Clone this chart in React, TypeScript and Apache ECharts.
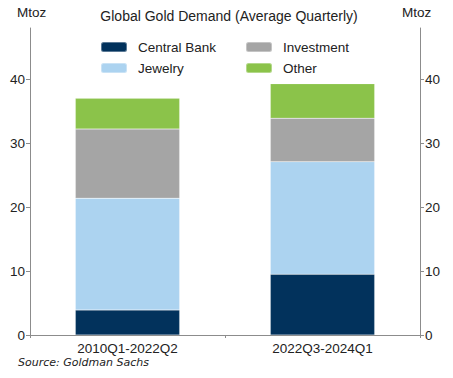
import React, { useEffect, useRef } from "react";
import * as echarts from "echarts";

const categories = ["2010Q1-2022Q2", "2022Q3-2024Q1"];
const centralBank = [3.9, 9.5];
const jewelry = [17.5, 17.6];
const investment = [10.8, 6.8];
const other = [4.8, 5.4];
const yTicks = [0, 10, 20, 30, 40];

const FONT = "Liberation Sans, Arial, sans-serif";
const FS = 13.5;

export default function App() {
  const ref = useRef<HTMLDivElement>(null);
  useEffect(() => {
    if (!ref.current) return;
    const chart = echarts.init(ref.current, undefined, { renderer: "svg" });
    const yAxisBase = (pos: "left" | "right") => ({
      type: "value",
      position: pos,
      min: 0,
      max: 48,
      interval: 10,
      splitLine: { show: false },
      axisLine: { show: true, lineStyle: { color: "#8c8c8c", width: 1 } },
      axisTick: { show: true, length: 4, lineStyle: { color: "#8c8c8c" }, customValues: yTicks },
      axisLabel: { color: "#222", fontSize: FS, fontFamily: FONT, margin: 5, customValues: yTicks },
    });
    const mk = (name: string, data: number[], color: string) => ({
      name,
      type: "bar",
      stack: "total",
      data,
      barWidth: "53.5%",
      itemStyle: { color, borderColor: "rgba(255,255,255,0.35)", borderWidth: 0.5 },
      emphasis: { disabled: true },
    });
    const legendBase = {
      orient: "vertical",
      top: 40,
      padding: 0,
      itemWidth: 26,
      itemHeight: 10,
      itemGap: 7,
      textStyle: { fontSize: FS, color: "#222", fontFamily: FONT, padding: [0, 0, 0, 6] },
      selectedMode: false,
    };
    chart.setOption({
      animation: false,
      title: {
        text: "Global Gold Demand (Average Quarterly)",
        left: 224,
        textAlign: "center",
        top: 4,
        textStyle: { fontSize: 14, fontWeight: "normal", color: "#222", fontFamily: FONT },
      },
      graphic: [
        { type: "text", left: 17, top: 5, style: { text: "Mtoz", fontSize: FS, fill: "#222", fontFamily: FONT } },
        { type: "text", left: 402, top: 5, style: { text: "Mtoz", fontSize: FS, fill: "#222", fontFamily: FONT } },
        {
          type: "text",
          left: 18,
          top: 357,
          style: {
            text: "Source: Goldman Sachs",
            fontSize: 11,
            fontStyle: "italic",
            fill: "#222",
            fontFamily: "Comic Sans MS, DejaVu Sans, sans-serif",
          },
        },
      ],
      legend: [
        { ...legendBase, left: 100, data: ["Central Bank", "Jewelry"] },
        { ...legendBase, left: 245, data: ["Investment", "Other"] },
      ],
      grid: { left: 30, right: 33, top: 28, bottom: 43, containLabel: false },
      xAxis: {
        type: "category",
        data: categories,
        axisLine: { show: true, lineStyle: { color: "#8c8c8c" } },
        axisTick: { show: true, length: 3, lineStyle: { color: "#8c8c8c" } },
        axisLabel: { color: "#222", fontSize: FS, fontFamily: FONT, margin: 6 },
      },
      yAxis: [yAxisBase("left"), yAxisBase("right")],
      series: [
        mk("Central Bank", centralBank, "#02325c"),
        mk("Jewelry", jewelry, "#acd3f0"),
        mk("Investment", investment, "#a5a5a5"),
        mk("Other", other, "#8bc34a"),
      ],
    });
    return () => chart.dispose();
  }, []);
  return <div ref={ref} style={{ width: 453, height: 378, position: "absolute", left: 0, top: 0 }} />;
}
